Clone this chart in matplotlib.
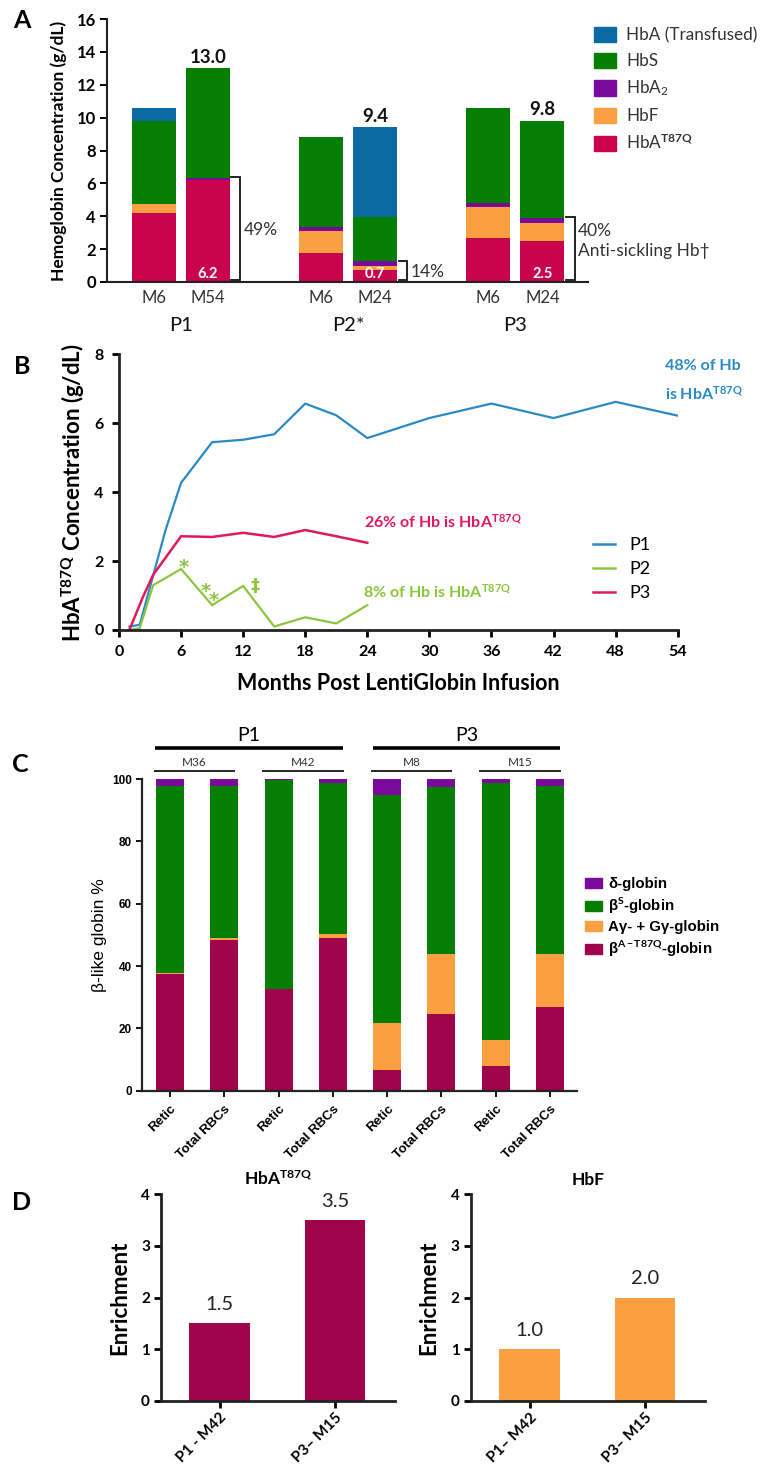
import matplotlib
matplotlib.use("Agg")
import matplotlib.pyplot as plt
import matplotlib.transforms as mtransforms
from matplotlib.patches import Patch
from matplotlib.lines import Line2D
import numpy as np

plt.rcParams['font.family'] = ['Lato', 'DejaVu Sans']
plt.rcParams['mathtext.fontset'] = 'custom'
plt.rcParams['mathtext.rm'] = 'Lato'
plt.rcParams['mathtext.bf'] = 'Lato:bold'
plt.rcParams['mathtext.it'] = 'Lato:italic'

# ---------------- data ----------------
# A: haemoglobin fractions (g/dL) per patient visit
a_patients = ["P1", "P2*", "P3"]
a_visits = ["M6", "M54", "M6", "M24", "M6", "M24"]
hb_t87q = [4.2, 6.2, 1.75, 0.7, 2.7, 2.5]
hb_f = [0.55, 0.0, 1.35, 0.3, 1.85, 1.1]
hb_a2 = [0.0, 0.15, 0.25, 0.25, 0.25, 0.3]
hb_s = [5.05, 6.65, 5.45, 2.7, 5.8, 5.9]
hb_a = [0.8, 0.0, 0.0, 5.45, 0.0, 0.0]
anti_sickling_pct = ["49%", "14%", "40%"]

# B: HbA-T87Q over time
p1_month = [1, 2, 4.5, 6, 9, 12, 15, 18, 21, 24, 30, 36, 42, 48, 54]
p1_hb = [0.1, 0.15, 2.9, 4.27, 5.45, 5.52, 5.68, 6.57, 6.23, 5.57, 6.15, 6.57, 6.15, 6.62, 6.22]
p2_month = [1, 2, 3.3, 6, 9, 12, 15, 18, 21, 24]
p2_hb = [0.0, 0.05, 1.3, 1.77, 0.72, 1.28, 0.1, 0.37, 0.19, 0.72]
p3_month = [1, 2.3, 3.3, 6, 9, 12, 15, 18, 21, 24]
p3_hb = [0.0, 0.95, 1.6, 2.72, 2.7, 2.82, 2.7, 2.9, 2.72, 2.53]

# C: beta-like globin chain percentages
c_patients = ["P1", "P3"]
c_visits = ["M36", "M42", "M8", "M15"]
c_samples = ["Retic", "Total RBCs"] * 4
c_t87q = [37.6, 48.3, 32.5, 49.1, 6.6, 24.6, 7.9, 27.0]
c_gamma = [0.3, 0.6, 0.0, 1.2, 15.0, 19.1, 8.4, 16.9]
c_betas = [60.0, 49.0, 67.2, 48.5, 73.2, 53.8, 82.3, 53.9]
c_delta = [2.1, 2.1, 0.3, 1.2, 5.2, 2.5, 1.4, 2.2]

# D: enrichment in total RBCs vs reticulocytes
d_left_labels = ["P1 - M42", "P3\u2013 M15"]
d_right_labels = ["P1\u2013 M42", "P3\u2013 M15"]
enrich_t87q = [1.5, 3.5]
enrich_hbf = [1.0, 2.0]

# ---------------- styling ----------------
COL_A = "#0A6AA1"
COL_S = "#047F04"
COL_A2 = "#7A0A9A"
COL_F = "#FBA041"
COL_T = "#C7044D"
COL_T_C = "#A0044A"
LINE_P1 = "#2A8AC6"
LINE_P2 = "#8CC63F"
LINE_P3 = "#E0195C"
DARK = "#222222"

W, H = 761, 1465
fig = plt.figure(figsize=(W / 100, H / 100), dpi=100)


def px_axes(x0, y0, x1, y1):
    return fig.add_axes([x0 / W, 1 - y1 / H, (x1 - x0) / W, (y1 - y0) / H])


def style_spines(ax, lw):
    for s in ("top", "right"):
        ax.spines[s].set_visible(False)
    for s in ("left", "bottom"):
        ax.spines[s].set_linewidth(lw)
        ax.spines[s].set_color(DARK)


# ================= Panel A =================
axA = px_axes(107, 19, 588, 282)
group_centers = np.arange(len(a_patients)) * 3.8
xA = np.ravel([[g - 0.614, g + 0.614] for g in group_centers])
layers = [(hb_t87q, COL_T), (hb_f, COL_F), (hb_a2, COL_A2), (hb_s, COL_S), (hb_a, COL_A)]
bottom = np.zeros(len(xA))
for vals, col in layers:
    axA.bar(xA, vals, width=1.0, bottom=bottom, color=col, linewidth=0)
    bottom = bottom + np.array(vals)
totals = bottom
anti = np.array(hb_t87q) + np.array(hb_f) + np.array(hb_a2)

axA.set_xlim(-1.68, 9.25)
axA.set_ylim(0, 16)
axA.set_yticks(np.arange(0, 17, 2))
axA.set_xticks(xA)
axA.set_xticklabels(a_visits, fontsize=12, color="#333333")
axA.tick_params(axis="x", length=0, pad=6)
axA.tick_params(axis="y", length=5, width=1.4, direction="out", labelsize=12, pad=3)
for t in axA.get_yticklabels():
    t.set_fontweight("bold")
style_spines(axA, 1.5)
axA.set_ylabel("Hemoglobin Concentration (g/dL)", fontsize=12.5, fontweight="bold", labelpad=7)

trA = mtransforms.blended_transform_factory(axA.transData, axA.transAxes)
for gi, g in enumerate(group_centers):
    axA.text(g, -0.165, a_patients[gi], transform=trA,
             ha="center", va="center", fontsize=14.5, color="#111111")
    i = 2 * gi + 1
    axA.text(xA[i], totals[i] + 0.15, f"{totals[i]:.1f}", ha="center", va="bottom",
             fontsize=13.5, fontweight="bold", color="#111111")
    axA.text(xA[i], 0.5, f"{hb_t87q[i]:.1f}", ha="center", va="center",
             fontsize=10.5, fontweight="bold", color="white")
    xr = xA[i] + 0.5
    xv = xr + 0.23
    axA.plot([xr + 0.03, xv, xv, xr + 0.03], [anti[i] + 0.05, anti[i] + 0.05, 0.12, 0.12],
             color="#111111", lw=1.3, clip_on=False, solid_joinstyle="miter")
    if gi < 2:
        axA.text(xv + 0.08, anti[i] / 2, anti_sickling_pct[gi], ha="left", va="center",
                 fontsize=12.5, color="#333333")
    else:
        axA.text(xv + 0.08, anti[i] * 0.64, anti_sickling_pct[gi] + "\nAnti-sickling Hb\u2020",
                 ha="left", va="center", fontsize=12.5, color="#333333", linespacing=1.25)

legA_handles = [Patch(color=c) for c in (COL_A, COL_S, COL_A2, COL_F, COL_T)]
legA_labels = ["HbA (Transfused)", "HbS", "HbA$_2$", "HbF", r"HbA$^{\mathbf{T87Q}}$"]
fig.legend(legA_handles, legA_labels, loc="upper left", bbox_to_anchor=(594 / W, 1 - 27 / H),
           frameon=False, fontsize=12.3, handlelength=1.3, handleheight=1.0,
           handletextpad=0.6, labelspacing=0.55, borderaxespad=0, borderpad=0,
           labelcolor="#333333")

# ================= Panel B =================
axB = px_axes(119, 354.3, 677.7, 630)
axB.plot(p1_month, p1_hb, color=LINE_P1, lw=1.6, label="P1")
axB.plot(p2_month, p2_hb, color=LINE_P2, lw=1.6, label="P2")
axB.plot(p3_month, p3_hb, color=LINE_P3, lw=1.8, label="P3")
axB.set_xlim(0, 54)
axB.set_ylim(0, 8)
axB.set_xticks(np.arange(0, 55, 6))
axB.set_yticks(np.arange(0, 9, 2))
axB.tick_params(length=5, width=2, direction="out", labelsize=11.5, pad=6)
for t in axB.get_xticklabels() + axB.get_yticklabels():
    t.set_fontweight("bold")
style_spines(axB, 2)
axB.set_xlabel("Months Post LentiGlobin Infusion", fontsize=15.5, fontweight="bold", labelpad=10)
axB.set_ylabel(r"HbA$^{\mathbf{T87Q}}$ Concentration (g/dL)", fontsize=16, fontweight="bold", labelpad=5)

axB.text(52.75, 7.65, "48% of Hb", color=LINE_P1, fontsize=11.5, fontweight="bold",
         ha="left", va="center", clip_on=False)
axB.text(52.75, 6.85, r"is HbA$^{\mathbf{T87Q}}$", color=LINE_P1, fontsize=11.5, fontweight="bold",
         ha="left", va="center", clip_on=False)
axB.text(23.7, 3.14, r"26% of Hb is HbA$^{\mathbf{T87Q}}$", color=LINE_P3, fontsize=11.5,
         fontweight="bold", ha="left", va="center")
axB.text(23.6, 1.11, r"8% of Hb is HbA$^{\mathbf{T87Q}}$", color=LINE_P2, fontsize=11.5,
         fontweight="bold", ha="left", va="center")
# event markers on the P2 trace (asterisks sit high in the glyph box, so anchor on baseline)
for (mx, my) in [(6.3, 1.64), (8.35, 0.95), (9.15, 0.71)]:
    axB.text(mx, my, "*", color=LINE_P2, fontsize=14, fontweight="bold",
             ha="center", va="baseline", family="DejaVu Sans")
axB.text(13.1, 1.28, "\u2021", color=LINE_P2, fontsize=13, fontweight="bold",
         ha="center", va="center", family="DejaVu Sans")

fig.legend(handles=[Line2D([], [], color=LINE_P1, lw=1.8), Line2D([], [], color=LINE_P2, lw=1.8),
                    Line2D([], [], color=LINE_P3, lw=1.8)],
           labels=["P1", "P2", "P3"], loc="upper left", bbox_to_anchor=(593 / W, 1 - 537 / H),
           frameon=False, fontsize=13, handlelength=1.2, handletextpad=0.8, labelspacing=0.45,
           borderaxespad=0, borderpad=0)

# ================= Panel C =================
C_FONT = ["Liberation Sans", "DejaVu Sans"]
axC = px_axes(141.7, 779, 576.7, 1090.7)
xC = np.arange(len(c_samples))
c_layers = [(c_t87q, COL_T_C), (c_gamma, COL_F), (c_betas, COL_S), (c_delta, COL_A2)]
bottom = np.zeros(len(xC))
for vals, col in c_layers:
    axC.bar(xC, vals, width=0.516, bottom=bottom, color=col, linewidth=0)
    bottom = bottom + np.array(vals)
axC.set_xlim(-0.52, 7.49)
axC.set_ylim(0, 100)
axC.set_yticks(np.arange(0, 101, 20))
axC.set_xticks(xC)
axC.set_xticklabels(c_samples, rotation=45, ha="right", rotation_mode="anchor",
                    fontsize=9.5, fontweight="bold", family=C_FONT)
for t in axC.get_yticklabels():
    t.set_fontweight("bold")
    t.set_family(C_FONT)
    t.set_fontsize(8.5)
axC.tick_params(length=4, width=1.3, direction="out", pad=3)
axC.tick_params(axis="x", pad=5)
style_spines(axC, 1.6)
axC.set_ylabel("\u03b2-like globin %", fontsize=12.5, family=C_FONT, labelpad=4)

trC = mtransforms.blended_transform_factory(axC.transData, axC.transAxes)
for gi, name in enumerate(c_patients):
    x0, x1 = 4 * gi - 0.27, 4 * gi + 3.19
    axC.plot([x0, x1], [1.098, 1.098], color="black", lw=2.6, transform=trC, clip_on=False,
             solid_capstyle="butt")
    axC.text((x0 + x1) / 2, 1.14, name, transform=trC, ha="center", va="center", fontsize=14)
for vi, name in enumerate(c_visits):
    x0, x1 = 2 * vi - 0.3, 2 * vi + 1.2
    axC.plot([x0, x1], [1.027, 1.027], color="black", lw=1.2, transform=trC, clip_on=False,
             solid_capstyle="butt")
    axC.text((x0 + x1) / 2, 1.053, name, transform=trC, ha="center", va="center",
             fontsize=8.5, color="#333333")

legC_handles = [Patch(color=c) for c in (COL_A2, COL_S, COL_F, COL_T_C)]
legC_labels = ["\u03b4-globin", "\u03b2$^{\\mathbf{S}}$-globin", "A\u03b3- + G\u03b3-globin",
               "\u03b2$^{\\mathbf{A-T87Q}}$-globin"]
fig.legend(legC_handles, legC_labels, loc="upper left", bbox_to_anchor=(585 / W, 1 - 877 / H),
           frameon=False, prop={"family": C_FONT, "weight": "bold", "size": 10.8},
           handlelength=1.1, handleheight=0.65, handletextpad=0.45, labelspacing=0.3,
           borderaxespad=0, borderpad=0)

# ================= Panel D =================
def enrichment_panel(ax, vals, labels, color, title):
    x = np.arange(len(vals))
    ax.bar(x, vals, width=0.526, color=color, linewidth=0)
    for xi, v in zip(x, vals):
        ax.text(xi, v + 0.2, f"{v:.1f}", ha="center", va="bottom", fontsize=14.5, color="#222222")
    ax.set_xlim(-0.51, 1.52)
    ax.set_ylim(0, 4)
    ax.set_yticks(range(5))
    ax.set_xticks(x)
    ax.set_xticklabels(labels, rotation=45, ha="right", rotation_mode="anchor",
                       fontsize=11, fontweight="bold")
    for t in ax.get_yticklabels():
        t.set_fontweight("bold")
    ax.tick_params(length=5, width=2, direction="out", labelsize=11, pad=3)
    ax.tick_params(axis="x", labelsize=11, pad=2)
    style_spines(ax, 2)
    ax.set_ylabel("Enrichment", fontsize=16, fontweight="bold", labelpad=8)
    ax.set_title(title, fontsize=12.5, fontweight="bold", pad=7)


axD1 = px_axes(161, 1194.3, 395, 1400.7)
enrichment_panel(axD1, enrich_t87q, d_left_labels, COL_T_C, r"HbA$^{\mathbf{T87Q}}$")
axD2 = px_axes(470.7, 1194.3, 705, 1400.7)
enrichment_panel(axD2, enrich_hbf, d_right_labels, COL_F, "HbF")

# panel letters
for letter, (lx, ly) in {"A": (22, 20), "B": (22, 366), "C": (20, 764), "D": (22, 1202)}.items():
    fig.text(lx / W, 1 - ly / H, letter, fontsize=18, fontweight="bold", ha="center", va="center")

fig.savefig("out.png", dpi=100)
